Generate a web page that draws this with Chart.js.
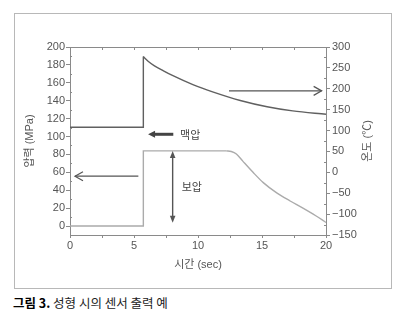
<!DOCTYPE html>
<html>
<head>
<meta charset="utf-8">
<script src="https://cdn.jsdelivr.net/npm/chart.js@4.4.1/dist/chart.umd.min.js"></script>
<style>
body{margin:0;background:#fff;width:400px;height:321px;overflow:hidden;position:relative;}
#frame{position:absolute;left:14px;top:13px;width:376px;height:274px;border:1px solid #b8b8b8;}
#myChart{display:block;}
#caption{position:absolute;left:13px;top:293px;font-size:12.5px;color:#222;font-family:"Noto Sans CJK KR",sans-serif;white-space:nowrap;}
#caption b{color:#000;}
</style>
</head>
<body>
<div id="frame"><canvas id="myChart" width="375" height="273"></canvas></div>
<div id="caption"><b>그림 3.</b> 성형 시의 센서 출력 예</div>
<script>
// 온도 (오른쪽 축) - 진한 선
let tempStepX = [0, 5.73, 5.73];
let tempStepY = [108, 108, 277];
let tempCurveX = [5.73, 6.1, 6.6, 7.3, 8.0, 9.6, 11.2, 13.3, 15.4, 17.4, 20];
let tempCurveY = [277, 266, 255, 243, 232, 210, 192, 172, 157, 147, 139];

// 압력 (왼쪽 축) - 연한 선
let presStepX = [0, 5.73, 5.73, 12.2];
let presStepY = [0, 0, 84, 84];
let presCurveX = [12.2, 12.6, 13.0, 13.5, 14.3, 15.1, 16.15, 17.2, 18.2, 19.2, 20];
let presCurveY = [84, 83.3, 80.5, 72.5, 60, 48.5, 37, 28, 20, 11.5, 4];

// 눈금
let xLabels = [0, 5, 10, 15, 20];
let leftTicks = [0, 20, 40, 60, 80, 100, 120, 140, 160, 180, 200];
let rightTicks = [-150, -100, -50, 0, 50, 100, 150, 200, 250, 300];

function pts(xs, ys){
    return xs.map((x, i) => ({x: x, y: ys[i]}));
}

const FONT = '"Liberation Sans", "Noto Sans CJK KR", sans-serif';
const AXIS = '#8a8a8a';
const DARK = '#606060';
const LIGHT = '#ababab';

function head(ctx, x, y, ang, len, half, filled){
    ctx.save();
    ctx.translate(x, y);
    ctx.rotate(ang);
    ctx.beginPath();
    ctx.moveTo(-len, -half);
    ctx.lineTo(0, 0);
    ctx.lineTo(-len, half);
    if(filled){ ctx.closePath(); ctx.fill(); } else { ctx.stroke(); }
    ctx.restore();
}

// 화살표와 글자
const notes = {
    id: 'notes',
    afterDatasetsDraw(chart){
        const ctx = chart.ctx;
        const x = chart.scales.x, y = chart.scales.y, y1 = chart.scales.y1;
        const a = chart.chartArea;
        ctx.save();

        // 작은 눈금 (안쪽)
        ctx.strokeStyle = AXIS;
        ctx.lineWidth = 1;
        ctx.beginPath();
        for(let t = 0; t <= 20; t += 2.5){
            let px = Math.round(x.getPixelForValue(t)) + 0.5;
            ctx.moveTo(px, a.top); ctx.lineTo(px, a.top + 3);
        }
        for(let v = 10; v < 200; v += 20){
            let py = Math.round(y.getPixelForValue(v)) + 0.5;
            ctx.moveTo(a.left, py); ctx.lineTo(a.left + 2, py);
        }
        for(let v = -125; v < 300; v += 50){
            let py = Math.round(y1.getPixelForValue(v)) + 0.5;
            ctx.moveTo(a.right, py); ctx.lineTo(a.right - 2, py);
        }
        ctx.stroke();

        ctx.strokeStyle = '#555';
        ctx.fillStyle = '#555';
        ctx.lineWidth = 1.2;

        // 오른쪽 화살표 (온도 축)
        let ry = y1.getPixelForValue(195);
        let rx1 = x.getPixelForValue(12.42), rx2 = x.getPixelForValue(19.66);
        ctx.beginPath(); ctx.moveTo(rx1, ry); ctx.lineTo(rx2, ry); ctx.stroke();
        head(ctx, rx2, ry, 0, 8, 4.5, false);

        // 왼쪽 화살표 (압력 축)
        let ly = y.getPixelForValue(55.7);
        let lx1 = x.getPixelForValue(5.34), lx2 = x.getPixelForValue(0.39);
        ctx.beginPath(); ctx.moveTo(lx1, ly); ctx.lineTo(lx2, ly); ctx.stroke();
        head(ctx, lx2, ly, Math.PI, 8, 4.5, false);

        // 맥압
        let my = y.getPixelForValue(102.5);
        let mx1 = x.getPixelForValue(8.07), mx2 = x.getPixelForValue(6.1);
        ctx.fillStyle = '#444';
        ctx.strokeStyle = '#444';
        ctx.lineWidth = 3;
        ctx.beginPath(); ctx.moveTo(mx1, my); ctx.lineTo(mx2 + 5, my); ctx.stroke();
        head(ctx, mx2, my, Math.PI, 7, 3.5, true);

        // 보압 (양방향)
        ctx.fillStyle = '#555';
        ctx.strokeStyle = '#555';
        ctx.lineWidth = 1.4;
        let bx = x.getPixelForValue(8.02);
        let by1 = y.getPixelForValue(83.7), by2 = y.getPixelForValue(3.6);
        ctx.beginPath(); ctx.moveTo(bx, by1 + 5); ctx.lineTo(bx, by2 - 5); ctx.stroke();
        head(ctx, bx, by1, -Math.PI / 2, 7, 2.8, true);
        head(ctx, bx, by2, Math.PI / 2, 7, 2.8, true);

        ctx.fillStyle = '#444';
        ctx.font = '11px ' + FONT;
        ctx.textAlign = 'left';
        ctx.textBaseline = 'middle';
        ctx.fillText('맥압', x.getPixelForValue(8.6), y.getPixelForValue(101));
        ctx.fillText('보압', x.getPixelForValue(8.73), y.getPixelForValue(42.7));

        // 오른쪽 축 제목 (아래에서 위로)
        ctx.fillStyle = '#555';
        ctx.translate(353, (a.top + a.bottom) / 2);
        ctx.rotate(-Math.PI / 2);
        ctx.textAlign = 'center';
        ctx.fillText('온도 (℃)', 0, 0);
        ctx.restore();
    }
};

let ctx = document.getElementById('myChart').getContext('2d');
let chart = new Chart(ctx, {
    type: 'scatter',
    data: {
        datasets: [
            {data: pts(tempStepX, tempStepY), yAxisID: 'y1', showLine: true, borderColor: DARK, borderWidth: 1.4, pointRadius: 0, tension: 0},
            {data: pts(tempCurveX, tempCurveY), yAxisID: 'y1', showLine: true, borderColor: DARK, borderWidth: 1.4, pointRadius: 0, cubicInterpolationMode: 'monotone'},
            {data: pts(presStepX, presStepY), yAxisID: 'y', showLine: true, borderColor: LIGHT, borderWidth: 1.4, pointRadius: 0, tension: 0},
            {data: pts(presCurveX, presCurveY), yAxisID: 'y', showLine: true, borderColor: LIGHT, borderWidth: 1.4, pointRadius: 0, cubicInterpolationMode: 'monotone'}
        ]
    },
    options: {
        responsive: false,
        animation: false,
        devicePixelRatio: 1,
        layout: {padding: 0},
        plugins: {legend: {display: false}, tooltip: {enabled: false}},
        scales: {
            x: {
                type: 'linear', position: 'bottom', min: 0, max: 20,
                afterFit: s => { s.height = 52; },
                ticks: {
                    stepSize: 2.5, autoSkip: false, maxRotation: 0, padding: 1,
                    color: '#555', font: {family: FONT, size: 11},
                    callback: v => xLabels.includes(v) ? String(v) : ''
                },
                grid: {drawOnChartArea: false, tickLength: 3, color: AXIS},
                border: {color: AXIS},
                title: {display: true, text: '시간 (sec)', color: '#555', font: {family: FONT, size: 11}, padding: {top: 0, bottom: 15}}
            },
            x2: {
                type: 'linear', position: 'top', min: 0, max: 20,
                afterFit: s => { s.height = 33; },
                ticks: {display: false},
                grid: {drawOnChartArea: false, drawTicks: false},
                border: {color: AXIS}
            },
            y: {
                type: 'linear', position: 'left', min: -10, max: 200,
                afterFit: s => { s.width = 55; },
                afterBuildTicks: s => { s.ticks = leftTicks.map(v => ({value: v})); },
                ticks: {padding: 1, color: '#555', font: {family: FONT, size: 11}},
                grid: {drawOnChartArea: false, tickLength: 4, color: AXIS},
                border: {color: AXIS},
                title: {display: true, text: '압력 (MPa)', color: '#555', font: {family: FONT, size: 11}, padding: {top: 8, bottom: 0}}
            },
            y1: {
                type: 'linear', position: 'right', min: -150, max: 300,
                afterFit: s => { s.width = 64; },
                afterBuildTicks: s => { s.ticks = rightTicks.map(v => ({value: v})); },
                ticks: {
                    padding: 2, color: '#555', font: {family: FONT, size: 11},
                    callback: v => String(v).replace('-', '\u2212')
                },
                grid: {drawOnChartArea: false, tickLength: 4, color: AXIS},
                border: {color: AXIS}
            }
        }
    },
    plugins: [notes]
});
</script>
</body>
</html>
